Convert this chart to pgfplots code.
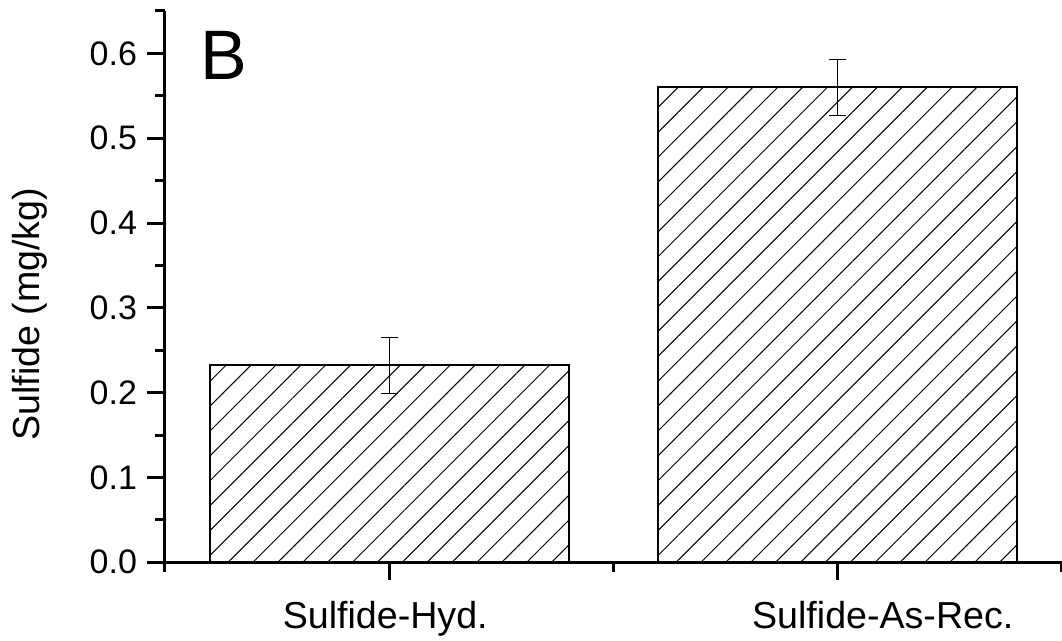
\documentclass[border=0pt]{standalone}
\usepackage{pgfplots}
\pgfplotsset{compat=1.18}
\usepackage{fontspec}
\setmainfont{Liberation Sans}
\usetikzlibrary{patterns.meta}
\begin{document}
\begin{tikzpicture}
\begin{axis}[
  scale only axis, width=448.5pt, height=275.65pt,
  xmin=0.5, xmax=2.5, ymin=0, ymax=0.65,
  axis x line*=bottom, axis y line*=left,
  tick align=outside, xtick align=outside, ytick align=outside,
  xmajorticks=true, xminorticks=true,
  xtick={1,2}, xticklabels={Sulfide-Hyd.\hspace*{4pt}, \hspace*{45pt}Sulfide-As-Rec.},
  minor xtick={0.5,1.5,2.5},
  ytick={0,0.1,0.2,0.3,0.4,0.5,0.6},
  minor ytick={0.05,0.15,0.25,0.35,0.45,0.55,0.65},
  major tick length=9pt, minor tick length=5pt,
  every tick/.style={black, line width=1.5pt},
  axis line style={line width=1.5pt},
  /pgf/number format/assume math mode=true,
  yticklabel style={/pgf/number format/fixed, /pgf/number format/fixed zerofill, /pgf/number format/precision=1, font=\fontsize{17}{20}\selectfont, xshift=-1.5pt},
  xticklabel style={font=\fontsize{18.8}{22}\selectfont, yshift=-7pt},
  ylabel={Sulfide (mg/kg)},
  ylabel style={font=\fontsize{18.8}{22}\selectfont, at={(axis description cs:-0.151,0.45)}, anchor=center},
]
\addplot[ybar, bar width=0.8, draw=black, line width=1pt,
  pattern={Lines[angle=45,distance=8.8pt,line width=0.5pt]}, pattern color=black,
  error bars/.cd, y dir=both, y explicit,
  error bar style={line width=0.5pt},
  error mark options={rotate=90, mark size=4.25pt, line width=0.5pt}]
  coordinates {(1,0.2325) +- (0,0.033) (2,0.56) +- (0,0.033)};
\node[anchor=base west, inner sep=0pt, font=\fontsize{35}{40}\selectfont] at (axis description cs:0.039,0.876) {B};
\end{axis}
\pgfresetboundingbox
\path (-82.5pt,-39.35pt) rectangle (448.5pt,281.15pt);
\end{tikzpicture}
\end{document}
